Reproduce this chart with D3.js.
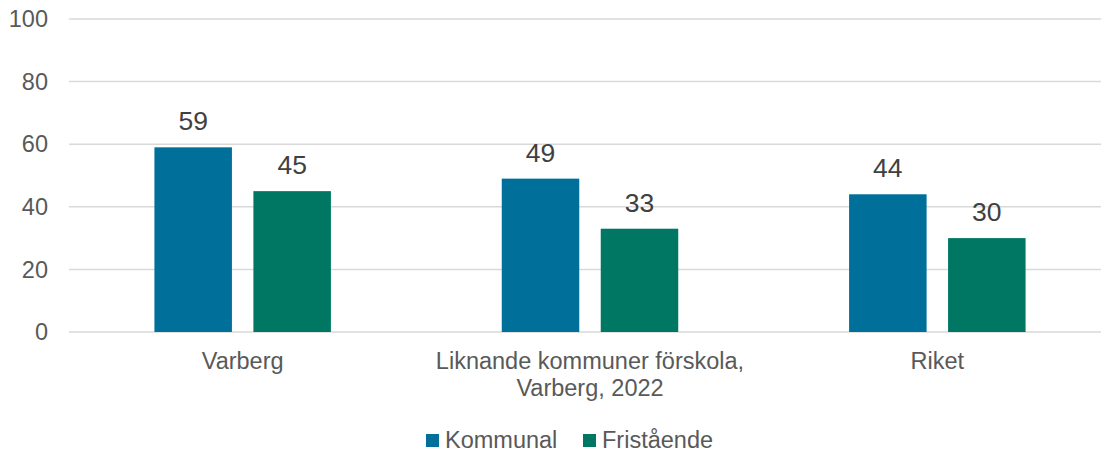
<!DOCTYPE html>
<meta charset="utf-8">
<head>
<script src="https://d3js.org/d3.v7.min.js"></script>
</head>
<style>
    html, body { margin: 0; background: white; }
    text { font-family: "Liberation Sans", Arial, sans-serif; }
    .tick-label { font-size: 23.5px; fill: #595959; }
    .cat-label { font-size: 23.5px; fill: #595959; }
    .value { font-size: 26.5px; fill: #404040; }
    .legend-text { font-size: 23.5px; fill: #595959; }
    .grid { stroke: #d9d9d9; stroke-width: 1.5px; }
</style>
<body>
<div id="chart"></div>
<script>

// data
var categories = ["Varberg", "Liknande kommuner förskola, Varberg, 2022", "Riket"];
var seriesNames = ["Kommunal", "Fristående"];
var kommunal = [59, 49, 44];
var fristaende = [45, 33, 30];
var yTicks = [0, 20, 40, 60, 80, 100];
var colors = ["#006f9a", "#007763"];

var width = 1101, height = 453;

var svg = d3.select("#chart").append("svg")
    .attr("width", width)
    .attr("height", height);

var x0 = d3.scaleBand().domain(categories).range([69, 1111]).padding(0);
var x1 = d3.scaleBand().domain(seriesNames).range([0, x0.bandwidth()])
    .paddingInner(0.217).paddingOuter(0.863);
var y = d3.scaleLinear().domain([0, 100]).range([332, 19]);

// gridlines
svg.selectAll(".grid")
    .data(yTicks)
  .enter().append("line")
    .attr("class", "grid")
    .attr("x1", 69)
    .attr("x2", width)
    .attr("y1", function(d) { return y(d); })
    .attr("y2", function(d) { return y(d); });

// y axis labels
svg.selectAll(".tick-label")
    .data(yTicks)
  .enter().append("text")
    .attr("class", "tick-label")
    .attr("x", 48)
    .attr("y", function(d) { return y(d); })
    .attr("dy", "0.35em")
    .attr("text-anchor", "end")
    .text(function(d) { return d; });

var rows = categories.map(function(c, i) {
    return { cat: c, values: [kommunal[i], fristaende[i]] };
});

var groups = svg.selectAll(".group")
    .data(rows)
  .enter().append("g")
    .attr("class", "group")
    .attr("transform", function(d) { return "translate(" + x0(d.cat) + ",0)"; });

var bars = groups.selectAll(".bar")
    .data(function(d) {
        return seriesNames.map(function(s, j) { return { s: s, j: j, v: d.values[j] }; });
    })
  .enter();

bars.append("rect")
    .attr("class", "bar")
    .attr("x", function(d) { return x1(d.s); })
    .attr("y", function(d) { return y(d.v); })
    .attr("width", x1.bandwidth())
    .attr("height", function(d) { return y(0) - y(d.v); })
    .attr("fill", function(d) { return colors[d.j]; });

bars.append("text")
    .attr("class", "value")
    .attr("x", function(d) { return x1(d.s) + x1.bandwidth() / 2; })
    .attr("y", function(d) { return y(d.v) - 17; })
    .attr("text-anchor", "middle")
    .text(function(d) { return d.v; });

// category labels, wrapped like excel does
groups.append("text")
    .attr("class", "cat-label")
    .attr("x", x0.bandwidth() / 2)
    .attr("y", 368.5)
    .attr("text-anchor", "middle")
    .each(function(d) {
        var el = d3.select(this);
        var words = d.cat.split(" ");
        var maxW = x0.bandwidth() - 20;
        var line = [];
        var tspan = el.append("tspan").attr("x", x0.bandwidth() / 2).attr("dy", 0);
        var lineNo = 0;
        words.forEach(function(w) {
            line.push(w);
            tspan.text(line.join(" "));
            if (tspan.node().getComputedTextLength() > maxW && line.length > 1) {
                line.pop();
                tspan.text(line.join(" "));
                line = [w];
                lineNo++;
                tspan = el.append("tspan").attr("x", x0.bandwidth() / 2).attr("dy", 27).text(w);
            }
        });
    });

// legend
var legendPos = [426, 583];
var legend = svg.selectAll(".legend")
    .data(seriesNames)
  .enter().append("g")
    .attr("class", "legend")
    .attr("transform", function(d, i) { return "translate(" + legendPos[i] + ",0)"; });

legend.append("rect")
    .attr("x", 0)
    .attr("y", 434)
    .attr("width", 13)
    .attr("height", 13)
    .attr("fill", function(d, i) { return colors[i]; });

legend.append("text")
    .attr("class", "legend-text")
    .attr("x", 19)
    .attr("y", 448)
    .text(function(d) { return d; });

</script>
</body>
